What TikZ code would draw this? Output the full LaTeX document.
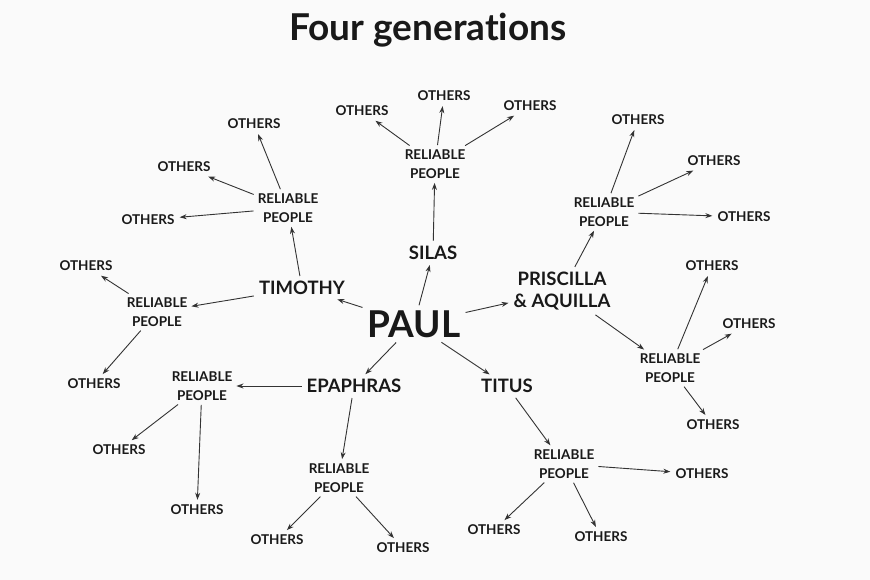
\documentclass[tikz,border=0pt]{standalone}
\usepackage{fontspec}
\setmainfont[Ligatures=NoCommon]{Lato}
\usetikzlibrary{arrows.meta, positioning}

\tikzset{
  arr/.style={-{Stealth[length=7pt,width=5pt]}, draw=black!80, line width=0.9pt, shorten >=1pt, shorten <=1pt},
  heading/.style={font=\bfseries\fontsize{37}{40}\selectfont, text=black!90},
  root/.style={font=\bfseries\fontsize{37}{40}\selectfont, text=black!90, inner sep=4pt},
  disciple/.style={font=\bfseries\fontsize{18.5}{22}\selectfont, text=black!90, align=center, inner sep=4pt},
  reliable/.style={font=\bfseries\fontsize{13.5}{19.5}\selectfont, text=black!90, align=center, inner sep=3pt},
  others/.style={font=\bfseries\fontsize{13.5}{15}\selectfont, text=black!90, inner sep=4pt},
}

\begin{document}
\begin{tikzpicture}[x=1pt,y=-1pt]
        \fill[gray!4] (0,0) rectangle (870,580);

        \node[heading] (title) at (428,30) {Four generations};

        \node[root] (paul) at (414,324) {PAUL};
        \node[disciple] (timothy) at (302,288) {TIMOTHY};
        \node[disciple] (silas) at (433,253) {SILAS};
        \node[disciple] (priscilla) at (562,291) {PRISCILLA\\\& AQUILLA};
        \node[disciple] (epaphras) at (354,386) {EPAPHRAS};
        \node[disciple] (titus) at (507,386) {TITUS};

        \node[reliable] (r1) at (288,208) {RELIABLE\\PEOPLE};
        \node[reliable] (r2) at (157,312) {RELIABLE\\PEOPLE};
        \node[reliable] (r3) at (435,164) {RELIABLE\\PEOPLE};
        \node[reliable] (r4) at (604,212) {RELIABLE\\PEOPLE};
        \node[reliable] (r5) at (670,368) {RELIABLE\\PEOPLE};
        \node[reliable] (r6) at (202,386) {RELIABLE\\PEOPLE};
        \node[reliable] (r7) at (339,478) {RELIABLE\\PEOPLE};
        \node[reliable] (r8) at (564,464) {RELIABLE\\PEOPLE};

        % others
        \node[others] (o11) at (254,124) {OTHERS};
        \node[others] (o12) at (184,167) {OTHERS};
        \node[others] (o13) at (148,220) {OTHERS};
        \node[others] (o21) at (86,266) {OTHERS};
        \node[others] (o22) at (94,384) {OTHERS};
        \node[others] (o31) at (362,111) {OTHERS};
        \node[others] (o32) at (444,96) {OTHERS};
        \node[others] (o33) at (530,106) {OTHERS};
        \node[others] (o41) at (638,120) {OTHERS};
        \node[others] (o42) at (714,161) {OTHERS};
        \node[others] (o43) at (744,217) {OTHERS};
        \node[others] (o51) at (712,266) {OTHERS};
        \node[others] (o52) at (749,324) {OTHERS};
        \node[others] (o53) at (713,425) {OTHERS};
        \node[others] (o61) at (119,450) {OTHERS};
        \node[others] (o62) at (197,510) {OTHERS};
        \node[others] (o71) at (277,540) {OTHERS};
        \node[others] (o72) at (403,548) {OTHERS};
        \node[others] (o81) at (494,530) {OTHERS};
        \node[others] (o82) at (601,537) {OTHERS};
        \node[others] (o83) at (702,474) {OTHERS};

        \path[arr]
        (paul) edge (timothy)
        (paul) edge (silas)
        (paul) edge (priscilla)
        (paul) edge (epaphras)
        (paul) edge (titus)
        (timothy) edge (r1)
        (timothy) edge (r2)
        (silas) edge (r3)
        (priscilla) edge (r4)
        (priscilla) edge (r5)
        (epaphras) edge (r6)
        (epaphras) edge (r7)
        (titus) edge (r8)
        (r1) edge (o11)
        (r1) edge (o12)
        (r1) edge (o13)
        (r2) edge (o21)
        (r2) edge (o22)
        (r3) edge (o31)
        (r3) edge (o32)
        (r3) edge (o33)
        (r4) edge (o41)
        (r4) edge (o42)
        (r4) edge (o43)
        (r5) edge (o51)
        (r5) edge (o52)
        (r5) edge (o53)
        (r6) edge (o61)
        (r6) edge (o62)
        (r7) edge (o71)
        (r7) edge (o72)
        (r8) edge (o81)
        (r8) edge (o82)
        (r8) edge (o83)
        ;
\end{tikzpicture}
\end{document}
